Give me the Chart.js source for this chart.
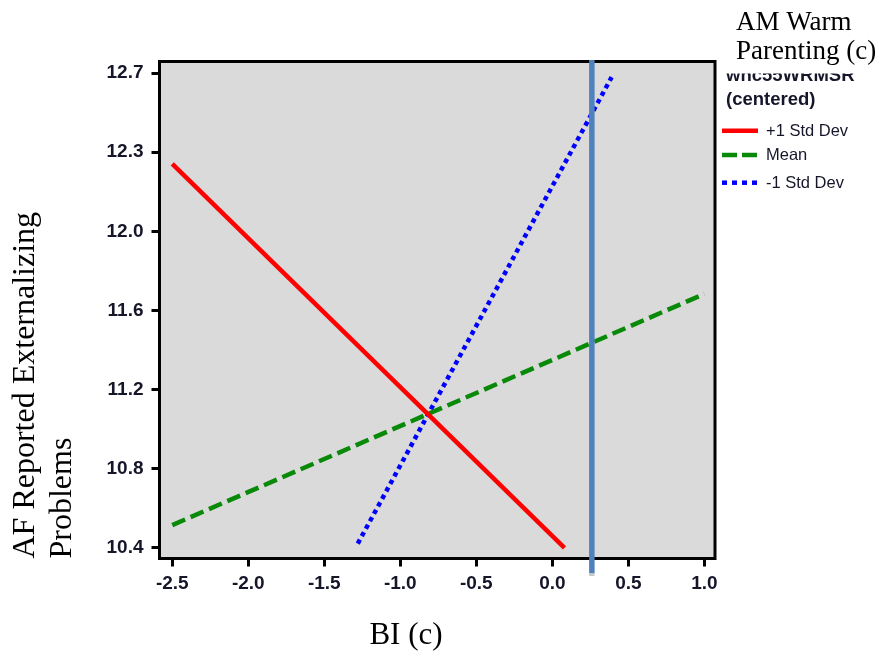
<!DOCTYPE html>
<html>
<head>
<meta charset="utf-8">
<script src="https://cdn.jsdelivr.net/npm/chart.js@4/dist/chart.umd.min.js"></script>
<style>
  html, body { margin: 0; padding: 0; background: #ffffff; }
  #wrap { position: relative; width: 887px; height: 652px; }
  canvas { display: block; }
</style>
</head>
<body>
<div id="wrap"><canvas id="c" width="887" height="652"></canvas></div>
<script>
// Axis ticks
const xTickValues = [-2.5, -2.0, -1.5, -1.0, -0.5, 0.0, 0.5, 1.0];
const xTickLabels = ['-2.5', '-2.0', '-1.5', '-1.0', '-0.5', '0.0', '0.5', '1.0'];
const yTickLabels = ['10.4', '10.8', '11.2', '11.6', '12.0', '12.3', '12.7'];

// Simple slopes of BI (c) at three levels of the moderator
const seriesLabels = ['+1 Std Dev', 'Mean', '-1 Std Dev'];
const plusSdX = [-2.5, 0.08];
const plusSdY = [12.26, 10.40];
const meanX = [-2.5, 1.0];
const meanY = [10.51, 11.63];
const minusSdX = [-1.28, 0.39];
const minusSdY = [10.42, 12.68];

// Vertical reference line on the BI (c) axis
const markerX = [0.26];

// Text
const xTitle = 'BI (c)';
const yTitle = ['AF Reported Externalizing', 'Problems'];
const moderatorTitle = ['AM Warm', 'Parenting (c)'];
const legendTitle = ['whc55WRMSR', '(centered)'];

const yLow = parseFloat(yTickLabels[0]);
const yHigh = parseFloat(yTickLabels[yTickLabels.length - 1]);
const yStep = (yHigh - yLow) / (yTickLabels.length - 1);

const pts = (xs, ys) => xs.map((x, i) => ({ x: x, y: ys[i] }));

const tickFont = { family: "'Liberation Sans', Arial, sans-serif", size: 19, weight: 'bold' };
const tickColor = '#16162a';

const panelPlugin = {
  id: 'panel',
  beforeDraw(chart) {
    const { ctx, chartArea: a } = chart;
    ctx.save();
    ctx.fillStyle = '#dadada';
    ctx.fillRect(a.left, a.top, a.right - a.left, a.bottom - a.top);
    ctx.restore();
  },
  afterDatasetsDraw(chart) {
    const { ctx, chartArea: a, scales } = chart;
    ctx.save();
    ctx.strokeStyle = '#000000';
    ctx.lineWidth = 3;
    ctx.strokeRect(a.left, a.top, a.right - a.left, a.bottom - a.top);
    // reference line
    markerX.forEach(v => {
      const px = scales.x.getPixelForValue(v);
      ctx.strokeStyle = '#4f81bd';
      ctx.lineWidth = 5.5;
      ctx.beginPath();
      ctx.moveTo(px, a.top - 1.5);
      ctx.lineTo(px, a.bottom + 15);
      ctx.stroke();
      ctx.strokeStyle = '#c8c8c8';
      ctx.beginPath();
      ctx.moveTo(px, a.bottom + 15);
      ctx.lineTo(px, a.bottom + 17.5);
      ctx.stroke();
    });
    ctx.restore();
  },
  afterDraw(chart) {
    const { ctx } = chart;
    ctx.save();

    // legend title (first line partly hidden under the moderator label box)
    ctx.fillStyle = tickColor;
    ctx.font = "bold 18.5px 'Liberation Sans', Arial, sans-serif";
    ctx.textAlign = 'left';
    ctx.textBaseline = 'alphabetic';
    ctx.fillText(legendTitle[0], 726, 81.3);
    ctx.fillText(legendTitle[1], 726, 104.7);

    // legend entries
    const rowY = [130.7, 155, 182.7];
    chart.data.datasets.forEach((ds, i) => {
      ctx.save();
      ctx.strokeStyle = ds.borderColor;
      ctx.lineWidth = 4.5;
      ctx.setLineDash(ds.legendDash || []);
      ctx.beginPath();
      ctx.moveTo(722, rowY[i]);
      ctx.lineTo(758, rowY[i]);
      ctx.stroke();
      ctx.restore();
      ctx.fillStyle = tickColor;
      ctx.font = "16.5px 'Liberation Sans', Arial, sans-serif";
      ctx.textBaseline = 'middle';
      ctx.fillText(ds.label, 766, rowY[i] + 0.5);
    });

    // moderator label box
    ctx.fillStyle = '#ffffff';
    ctx.fillRect(717, 0, 170, 73.5);
    ctx.fillStyle = '#000000';
    ctx.font = "27px 'Liberation Serif', 'Times New Roman', serif";
    ctx.textBaseline = 'alphabetic';
    ctx.fillText(moderatorTitle[0], 736, 30);
    ctx.fillText(moderatorTitle[1], 736, 58.5);

    // x axis title
    ctx.font = "31px 'Liberation Serif', 'Times New Roman', serif";
    ctx.textAlign = 'center';
    ctx.fillText(xTitle, 406, 644);
    ctx.restore();
  }
};

new Chart(document.getElementById('c'), {
  type: 'line',
  data: {
    datasets: [
      {
        label: seriesLabels[0],
        data: pts(plusSdX, plusSdY),
        borderColor: '#ff0000',
        borderWidth: 4.5,
        borderCapStyle: 'butt',
        legendDash: []
      },
      {
        label: seriesLabels[1],
        data: pts(meanX, meanY),
        borderColor: '#088a08',
        borderWidth: 4.5,
        borderDash: [14, 6],
        borderCapStyle: 'butt',
        legendDash: [15, 5]
      },
      {
        label: seriesLabels[2],
        data: pts(minusSdX, minusSdY),
        borderColor: '#0000ff',
        borderWidth: 4.5,
        borderDash: [4.5, 4],
        borderCapStyle: 'butt',
        legendDash: [5, 5]
      }
    ]
  },
  options: {
    responsive: false,
    animation: false,
    events: [],
    devicePixelRatio: 1,
    layout: { padding: { left: 0, top: 61.5, right: 172, bottom: 0 } },
    elements: {
      point: { radius: 0 },
      line: { tension: 0, fill: false }
    },
    plugins: {
      legend: { display: false },
      tooltip: { enabled: false },
      title: { display: false }
    },
    scales: {
      x: {
        type: 'linear',
        min: -2.584,
        max: 1.070,
        afterFit(scale) { scale.height = 93.5; },
        afterBuildTicks(scale) {
          scale.ticks = xTickValues.map(v => ({ value: v }));
        },
        ticks: {
          callback: (v, i) => xTickLabels[i],
          font: tickFont,
          color: tickColor,
          padding: 6,
          maxRotation: 0,
          autoSkip: false
        },
        grid: {
          drawOnChartArea: false,
          drawTicks: true,
          tickLength: 8,
          tickWidth: 3,
          tickColor: '#000000'
        },
        border: { display: true, color: '#000000', width: 3 },
        title: { display: false }
      },
      y: {
        type: 'linear',
        min: 10.348,
        max: 12.756,
        afterFit(scale) { scale.width = 159.5; },
        afterBuildTicks(scale) {
          scale.ticks = yTickLabels.map((_, i) => ({ value: yLow + i * yStep }));
        },
        ticks: {
          callback: (v, i) => yTickLabels[i],
          font: tickFont,
          color: tickColor,
          padding: 8,
          autoSkip: false
        },
        grid: {
          drawOnChartArea: false,
          drawTicks: true,
          tickLength: 8,
          tickWidth: 3,
          tickColor: '#000000'
        },
        border: { display: true, color: '#000000', width: 3 },
        title: {
          display: true,
          text: yTitle,
          align: 'start',
          color: '#000000',
          font: { family: "'Liberation Serif', 'Times New Roman', serif", size: 32, lineHeight: 1.15 },
          padding: { top: 7, bottom: 0 }
        }
      }
    }
  },
  plugins: [panelPlugin]
});
</script>
</body>
</html>
